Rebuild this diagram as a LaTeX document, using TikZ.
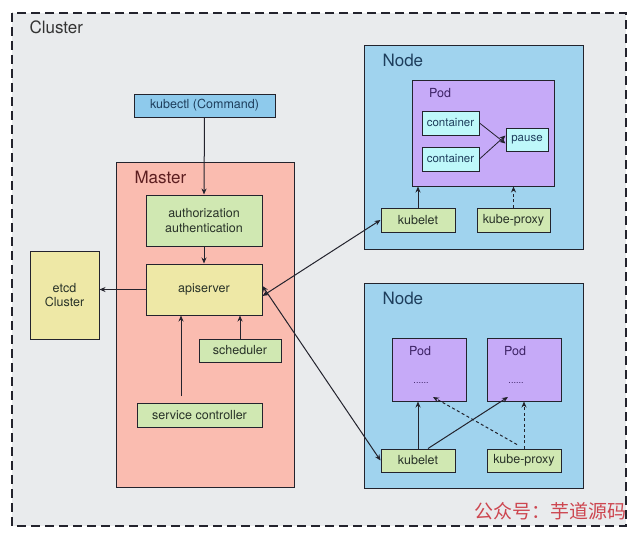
\documentclass[tikz,border=0pt]{standalone}
\usepackage{fontspec}
\setmainfont{TeX Gyre Heros}
\newfontfamily\cjk{Noto Sans CJK SC}
\usetikzlibrary{arrows.meta}
\definecolor{clusterbg}{RGB}{233,235,237}
\definecolor{nodebg}{RGB}{160,211,238}
\definecolor{podbg}{RGB}{198,170,248}
\definecolor{contbg}{RGB}{190,248,250}
\definecolor{greenbg}{RGB}{208,232,178}
\definecolor{yellowbg}{RGB}{238,232,166}
\definecolor{masterbg}{RGB}{250,188,176}
\definecolor{cmdbg}{RGB}{142,202,236}
\definecolor{edgec}{RGB}{35,35,45}
\definecolor{nodetxt}{RGB}{30,62,92}
\definecolor{mastertxt}{RGB}{92,30,32}
\definecolor{podtxt}{RGB}{60,34,100}
\definecolor{boxtxt}{RGB}{40,50,40}
\definecolor{wm}{RGB}{205,70,80}
\tikzset{
  box/.style={draw=edgec, line width=1pt, inner sep=0pt, align=center, text=boxtxt, font=\fontsize{12.5}{14.5}\selectfont},
  gbox/.style={box, fill=greenbg},
  ybox/.style={box, fill=yellowbg},
  cbox/.style={box, fill=contbg, text=nodetxt, font=\fontsize{11.5}{13}\selectfont},
  area/.style={draw=edgec, line width=1pt},
  title/.style={anchor=west, font=\fontsize{17}{19}\selectfont},
  arr/.style={-{Stealth[length=6pt,width=5pt]}, line width=1pt, draw=edgec},
  darr/.style={arr, dashed, dash pattern=on 3pt off 2.5pt},
  barr/.style={{Stealth[length=6pt,width=5pt]}-{Stealth[length=6pt,width=5pt]}, line width=1pt, draw=edgec},
}
\begin{document}
\begin{tikzpicture}[x=1pt,y=-1pt]
\useasboundingbox (0,0) rectangle (640,535);
\fill[white] (0,0) rectangle (640,535);
% cluster
\draw[fill=clusterbg, draw=edgec, line width=1.2pt, dash pattern=on 9pt off 5pt] (12,13) rectangle (626,526);
\node[title, text=black!80] (clusterlbl) at (26,27) {Cluster};
% master
\node[area, fill=masterbg, minimum width=178pt, minimum height=325pt] (master) at (205,324.5) {};
\node[title, text=mastertxt] (masterlbl) at (131,177) {Master};
% kubectl
\node[box, fill=cmdbg, minimum width=141pt, minimum height=23pt, text=nodetxt] (kubectl) at (204.5,105.5) {kubectl (Command)};
\node[gbox, minimum width=116pt, minimum height=51pt] (auth) at (204,220.5) {authorization\\authentication};
\node[ybox, minimum width=116pt, minimum height=51pt] (api) at (204,289.5) {apiserver};
\node[ybox, minimum width=69pt, minimum height=88pt] (etcd) at (64.5,295) {etcd\\Cluster};
\node[gbox, minimum width=82pt, minimum height=23pt] (sched) at (240,350.5) {scheduler};
\node[gbox, minimum width=125pt, minimum height=24pt] (svc) at (199.5,415) {service controller};
% node 1
\node[area, fill=nodebg, minimum width=219pt, minimum height=203pt] (node1) at (473.5,147.5) {};
\node[title, text=nodetxt] (node1lbl) at (379,60) {Node};
\node[area, fill=podbg, minimum width=142pt, minimum height=105pt] (pod1) at (483,133.5) {};
\node[text=podtxt, font=\fontsize{12.5}{14}\selectfont] (pod1lbl) at (440,93) {Pod};
\node[cbox, minimum width=57pt, minimum height=24pt] (c1) at (450.5,123) {container};
\node[cbox, minimum width=57pt, minimum height=24pt] (c2) at (450.5,159) {container};
\node[cbox, minimum width=42pt, minimum height=23pt] (pause) at (527,139.5) {pause};
\node[gbox, minimum width=74pt, minimum height=24pt] (kubelet1) at (418,220) {kubelet};
\node[gbox, minimum width=73pt, minimum height=24pt] (proxy1) at (513.5,220) {kube-proxy};
% node 2
\node[area, fill=nodebg, minimum width=219pt, minimum height=205pt] (node2) at (473.5,385.5) {};
\node[title, text=nodetxt] (node2lbl) at (379,298) {Node};
\node[area, fill=podbg, minimum width=74pt, minimum height=63pt] (podA) at (429,369.5) {};
\node[area, fill=podbg, minimum width=74pt, minimum height=63pt] (podB) at (524,369.5) {};
\node[text=podtxt, font=\fontsize{12.5}{14}\selectfont] (podAlbl) at (420,351) {Pod};
\node[text=podtxt, font=\fontsize{12.5}{14}\selectfont] (podBlbl) at (515,351) {Pod};
\node[text=podtxt, font=\fontsize{9}{10}\selectfont] (podAdots) at (421,383) {......};
\node[text=podtxt, font=\fontsize{9}{10}\selectfont] (podBdots) at (516,383) {......};
\node[gbox, minimum width=74pt, minimum height=23pt] (kubelet2) at (418,460.5) {kubelet};
\node[gbox, minimum width=74pt, minimum height=23pt] (proxy2) at (524,460.5) {kube-proxy};
% watermark
\node[anchor=east, text=wm, font=\cjk\fontsize{19}{20}\selectfont, inner sep=0pt] (wmark) at (627,511) {公众号：芋道源码};
% master arrows
\draw[arr] (kubectl.south) -- (auth.north);
\draw[arr] (auth.south) -- (api.north);
\draw[arr] (api.west) -- (etcd.east |- api.west);
\draw[arr] (sched.north) -- (sched.north |- api.south);
\coordinate (svctop) at (181,396);
\draw[arr] (svctop) -- (svctop |- api.south);
% node 1 arrows
\draw[arr, line width=0.8pt] (c1.east) -- ([yshift=-4pt]pause.west);
\draw[arr, line width=0.8pt] (c2.east) -- ([yshift=4pt]pause.west);
\draw[arr] (kubelet1.north) -- (kubelet1.north |- pod1.south);
\draw[darr] (proxy1.north) -- (proxy1.north |- pod1.south);
% node 2 arrows
\draw[arr] (kubelet2.north) -- (kubelet2.north |- podA.south);
\draw[arr] ([xshift=10pt]kubelet2.north) -- (508,397);
\draw[darr] (proxy2.north) -- (proxy2.north |- podB.south);
\draw[darr] ([xshift=-7pt,yshift=4pt]proxy2.north) -- (433,397);
% api <-> kubelets
\draw[barr] ([yshift=-6.5pt]api.east) -- (kubelet1.west);
\draw[barr] ([yshift=3.5pt]api.east) -- (kubelet2.west);
\end{tikzpicture}
\end{document}
